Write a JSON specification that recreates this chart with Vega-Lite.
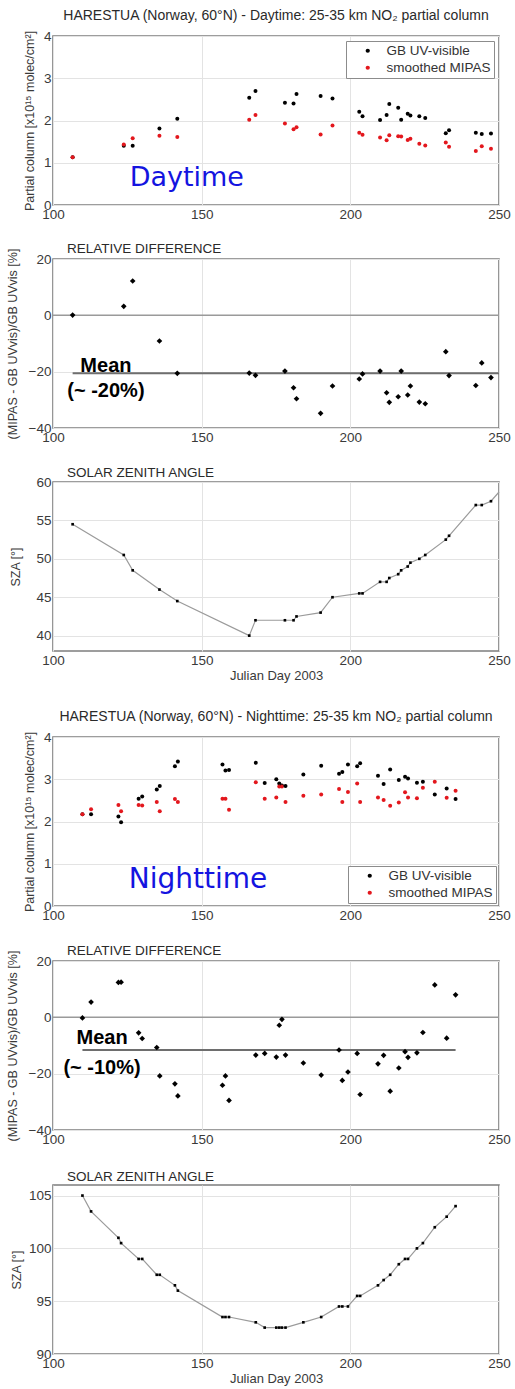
{
  "$schema": "https://vega.github.io/schema/vega-lite/v6.json",
  "padding": {"left": 5, "top": 8, "right": 8, "bottom": 0},
  "datasets": {
    "day": [
      {"day": 106.6, "gb": 1.13, "mipas": 1.13, "rd": 0.1, "sza": 54.5},
      {"day": 123.8, "gb": 1.40, "mipas": 1.43, "rd": 3.2, "sza": 50.5},
      {"day": 126.8, "gb": 1.40, "mipas": 1.58, "rd": 12.2, "sza": 48.5},
      {"day": 135.8, "gb": 1.81, "mipas": 1.64, "rd": -9.1, "sza": 46.0},
      {"day": 141.8, "gb": 2.04, "mipas": 1.61, "rd": -20.6, "sza": 44.5},
      {"day": 166.0, "gb": 2.54, "mipas": 2.02, "rd": -20.5, "sza": 40.0},
      {"day": 168.1, "gb": 2.70, "mipas": 2.13, "rd": -21.3, "sza": 42.0},
      {"day": 178.0, "gb": 2.42, "mipas": 1.93, "rd": -19.8, "sza": 42.0},
      {"day": 180.9, "gb": 2.40, "mipas": 1.79, "rd": -25.7, "sza": 42.0},
      {"day": 181.9, "gb": 2.63, "mipas": 1.84, "rd": -29.6, "sza": 42.5},
      {"day": 190.0, "gb": 2.58, "mipas": 1.67, "rd": -34.8, "sza": 43.0},
      {"day": 194.0, "gb": 2.52, "mipas": 1.88, "rd": -25.1, "sza": 45.0},
      {"day": 203.0, "gb": 2.21, "mipas": 1.71, "rd": -22.6, "sza": 45.5},
      {"day": 204.1, "gb": 2.10, "mipas": 1.66, "rd": -20.8, "sza": 45.5},
      {"day": 210.0, "gb": 2.01, "mipas": 1.60, "rd": -19.8, "sza": 47.0},
      {"day": 212.2, "gb": 2.13, "mipas": 1.53, "rd": -27.5, "sza": 47.0},
      {"day": 213.1, "gb": 2.39, "mipas": 1.65, "rd": -30.9, "sza": 47.5},
      {"day": 216.1, "gb": 2.30, "mipas": 1.63, "rd": -28.9, "sza": 48.0},
      {"day": 217.1, "gb": 2.02, "mipas": 1.62, "rd": -19.8, "sza": 48.5},
      {"day": 219.3, "gb": 2.16, "mipas": 1.54, "rd": -28.3, "sza": 49.0},
      {"day": 220.2, "gb": 2.12, "mipas": 1.57, "rd": -25.1, "sza": 49.5},
      {"day": 223.2, "gb": 2.10, "mipas": 1.45, "rd": -30.8, "sza": 50.0},
      {"day": 225.2, "gb": 2.06, "mipas": 1.41, "rd": -31.4, "sza": 50.5},
      {"day": 232.1, "gb": 1.70, "mipas": 1.48, "rd": -12.9, "sza": 52.5},
      {"day": 233.2, "gb": 1.77, "mipas": 1.38, "rd": -21.4, "sza": 53.0},
      {"day": 242.2, "gb": 1.71, "mipas": 1.28, "rd": -24.9, "sza": 57.0},
      {"day": 244.2, "gb": 1.68, "mipas": 1.39, "rd": -16.9, "sza": 57.0},
      {"day": 247.3, "gb": 1.69, "mipas": 1.33, "rd": -22.1, "sza": 57.5},
      {"day": 250.0, "sza": 58.7, "edge": true}
    ],
    "night": [
      {"day": 109.9, "gb": 2.17, "mipas": 2.17, "rd": -0.2, "sza": 105.0},
      {"day": 112.8, "gb": 2.17, "mipas": 2.29, "rd": 5.4, "sza": 103.5},
      {"day": 122.0, "gb": 2.12, "mipas": 2.39, "rd": 12.4, "sza": 101.0},
      {"day": 122.9, "gb": 1.98, "mipas": 2.24, "rd": 12.5, "sza": 100.5},
      {"day": 128.8, "gb": 2.54, "mipas": 2.39, "rd": -5.5, "sza": 99.0},
      {"day": 130.0, "gb": 2.59, "mipas": 2.38, "rd": -7.5, "sza": 99.0},
      {"day": 134.9, "gb": 2.76, "mipas": 2.46, "rd": -10.7, "sza": 97.5},
      {"day": 135.9, "gb": 2.84, "mipas": 2.24, "rd": -20.8, "sza": 97.5},
      {"day": 141.0, "gb": 3.31, "mipas": 2.53, "rd": -23.6, "sza": 96.5},
      {"day": 142.0, "gb": 3.42, "mipas": 2.46, "rd": -27.9, "sza": 96.0},
      {"day": 157.0, "gb": 3.35, "mipas": 2.54, "rd": -24.1, "sza": 93.5},
      {"day": 158.0, "gb": 3.21, "mipas": 2.54, "rd": -20.8, "sza": 93.5},
      {"day": 159.2, "gb": 3.22, "mipas": 2.28, "rd": -29.5, "sza": 93.5},
      {"day": 168.2, "gb": 3.39, "mipas": 2.93, "rd": -13.4, "sza": 93.0},
      {"day": 171.2, "gb": 2.91, "mipas": 2.54, "rd": -12.8, "sza": 92.5},
      {"day": 175.1, "gb": 3.00, "mipas": 2.57, "rd": -14.1, "sza": 92.5},
      {"day": 176.1, "gb": 2.90, "mipas": 2.83, "rd": -2.8, "sza": 92.5},
      {"day": 177.0, "gb": 2.85, "mipas": 2.83, "rd": -0.7, "sza": 92.5},
      {"day": 178.2, "gb": 2.84, "mipas": 2.46, "rd": -13.4, "sza": 92.5},
      {"day": 184.2, "gb": 3.11, "mipas": 2.61, "rd": -16.2, "sza": 93.0},
      {"day": 190.2, "gb": 3.32, "mipas": 2.64, "rd": -20.5, "sza": 93.5},
      {"day": 196.2, "gb": 3.13, "mipas": 2.77, "rd": -11.6, "sza": 94.5},
      {"day": 197.3, "gb": 3.17, "mipas": 2.46, "rd": -22.4, "sza": 94.5},
      {"day": 199.2, "gb": 3.35, "mipas": 2.70, "rd": -19.4, "sza": 94.5},
      {"day": 202.3, "gb": 3.31, "mipas": 2.90, "rd": -12.8, "sza": 95.5},
      {"day": 203.3, "gb": 3.38, "mipas": 2.46, "rd": -27.4, "sza": 95.5},
      {"day": 209.3, "gb": 3.08, "mipas": 2.57, "rd": -16.5, "sza": 96.5},
      {"day": 211.2, "gb": 2.89, "mipas": 2.51, "rd": -13.5, "sza": 97.0},
      {"day": 213.4, "gb": 3.23, "mipas": 2.37, "rd": -26.2, "sza": 97.5},
      {"day": 216.3, "gb": 2.98, "mipas": 2.45, "rd": -18.0, "sza": 98.5},
      {"day": 218.4, "gb": 3.06, "mipas": 2.69, "rd": -12.2, "sza": 99.0},
      {"day": 219.4, "gb": 3.02, "mipas": 2.57, "rd": -14.2, "sza": 99.0},
      {"day": 222.4, "gb": 2.92, "mipas": 2.55, "rd": -12.6, "sza": 100.0},
      {"day": 224.4, "gb": 2.94, "mipas": 2.80, "rd": -5.4, "sza": 100.5},
      {"day": 228.4, "gb": 2.64, "mipas": 2.94, "rd": 11.5, "sza": 102.0},
      {"day": 232.4, "gb": 2.78, "mipas": 2.56, "rd": -7.4, "sza": 103.0},
      {"day": 235.4, "gb": 2.53, "mipas": 2.73, "rd": 8.0, "sza": 104.0}
    ]
  },
  "config": {
    "font": "Liberation Sans",
    "view": {"stroke": "#7d7d7d", "strokeWidth": 1.6},
    "axis": {
      "domain": false, "ticks": false, "grid": true, "gridColor": "#e3e3e3", "gridWidth": 1,
      "labelFont": "Liberation Sans", "labelFontSize": 13.5, "labelColor": "#3a3a3a", "labelPadding": 2,
      "titleFont": "Liberation Sans", "titleFontSize": 12.5, "titleFontWeight": "normal", "titleColor": "#3a3a3a",
      "labelFlush": false, "labelOverlap": false
    },
    "title": {"font": "Liberation Sans", "fontWeight": "normal", "color": "#2a2a2a", "fontSize": 13.5, "frame": "group"},
    "legend": {
      "labelFont": "Liberation Sans", "labelFontSize": 13.5, "labelColor": "#333333",
      "strokeColor": "#8c8c8c", "fillColor": "#ffffff", "padding": 3, "rowPadding": 2,
      "symbolType": "circle", "symbolSize": 18, "symbolOffset": 12, "labelOffset": 12, "symbolStrokeWidth": 0
    }
  },
  "spacing": 25,
  "resolve": {"scale": {"x": "independent", "y": "independent", "color": "independent"}, "axis": {"x": "independent", "y": "independent"}, "legend": {"color": "independent"}},
  "vconcat": [
    {
      "spacing": 54,
      "bounds": "flush",
      "resolve": {"scale": {"x": "independent", "y": "independent", "color": "independent"}, "axis": {"x": "independent", "y": "independent"}, "legend": {"color": "independent"}},
      "vconcat": [
        {
          "width": 446, "height": 169,
          "title": {"text": "HARESTUA (Norway, 60°N) - Daytime: 25-35 km NO₂ partial column", "anchor": "middle", "fontSize": 14, "offset": 6},
          "layer": [
            {
              "data": {"name": "day"},
              "transform": [{"filter": "!datum.edge"}, {"fold": ["gb", "mipas"], "as": ["series", "value"]}],
              "mark": {"type": "circle", "size": 16, "opacity": 1},
              "encoding": {
                "x": {"field": "day", "type": "quantitative", "scale": {"domain": [100, 250], "nice": false, "zero": false}, "axis": {"values": [100, 150, 200, 250], "title": null}},
                "y": {"field": "value", "type": "quantitative", "scale": {"domain": [0, 4], "nice": false}, "axis": {"values": [0, 1, 2, 3, 4], "title": "Partial column [x10¹⁵ molec/cm²]", "titleX": -24, "titleBaseline": "middle"}},
                "color": {"field": "series", "type": "nominal", "scale": {"domain": ["gb", "mipas"], "range": ["#000000", "#e3171d"]},
                  "legend": {"orient": "top-right", "offset": 5, "title": null, "labelExpr": "datum.label == 'gb' ? 'GB UV-visible' : 'smoothed MIPAS'"}}
              }
            },
            {
              "data": {"values": [{}]},
              "mark": {"type": "text", "text": "Daytime", "font": "DejaVu Sans", "fontSize": 27, "color": "#1414e0", "align": "center", "baseline": "alphabetic"},
              "encoding": {"x": {"datum": 145, "scale": {"domain": [100, 250], "nice": false, "zero": false}}, "y": {"datum": 0.45, "scale": {"domain": [0, 4], "nice": false}}}
            }
          ]
        },
        {
          "width": 446, "height": 169,
          "title": {"text": "RELATIVE DIFFERENCE", "anchor": "start", "dx": 14, "offset": -7},
          "layer": [
            {
              "data": {"values": [{}]},
              "mark": {"type": "rule", "color": "#9a9a9a", "strokeWidth": 1.5},
              "encoding": {"x": {"datum": 100, "scale": {"domain": [100, 250], "nice": false, "zero": false}, "axis": {"values": [100, 150, 200, 250], "title": null}}, "x2": {"datum": 250}, "y": {"datum": 0, "scale": {"domain": [-40, 20], "nice": false, "zero": false}, "axis": {"values": [20, 10, 0, -10, -20, -30, -40], "title": "(MIPAS - GB UVvis)/GB UVvis [%]", "titleX": -41, "titleBaseline": "middle"}}}
            },
            {
              "data": {"values": [{}]},
              "mark": {"type": "rule", "color": "#6e6e6e", "strokeWidth": 2},
              "encoding": {"x": {"datum": 106.6}, "x2": {"datum": 250}, "y": {"datum": -20.6}}
            },
            {
              "data": {"name": "day"},
              "transform": [{"filter": "!datum.edge"}],
              "mark": {"type": "point", "shape": "diamond", "filled": true, "color": "#000000", "size": 32, "opacity": 1},
              "encoding": {
                "x": {"field": "day", "type": "quantitative"},
                "y": {"field": "rd", "type": "quantitative"}
              }
            },
            {
              "data": {"values": [{}]},
              "mark": {"type": "text", "text": ["Mean", "(~ -20%)"], "font": "Liberation Sans", "fontWeight": "bold", "fontSize": 20, "lineHeight": 25, "color": "#000000", "align": "center", "baseline": "alphabetic"},
              "encoding": {"x": {"datum": 117.8}, "y": {"datum": -20.1}}
            }
          ]
        },
        {
          "width": 446, "height": 169,
          "title": {"text": "SOLAR ZENITH ANGLE", "anchor": "start", "dx": 14, "offset": -4},
          "layer": [
            {
              "data": {"name": "day"},
              "mark": {"type": "line", "color": "#9b9b9b", "strokeWidth": 1.2},
              "encoding": {
                "x": {"field": "day", "type": "quantitative", "scale": {"domain": [100, 250], "nice": false, "zero": false}, "axis": {"values": [100, 150, 200, 250], "title": "Julian Day 2003", "titleFontSize": 13, "titlePadding": 3}},
                "y": {"field": "sza", "type": "quantitative", "scale": {"domain": [38, 60], "nice": false, "zero": false}, "axis": {"values": [40, 45, 50, 55, 60], "title": "SZA [°]", "titleX": -38, "titleBaseline": "middle"}}
              }
            },
            {
              "data": {"name": "day"},
              "transform": [{"filter": "!datum.edge"}],
              "mark": {"type": "point", "shape": "square", "filled": true, "color": "#000000", "size": 7, "opacity": 1},
              "encoding": {
                "x": {"field": "day", "type": "quantitative"},
                "y": {"field": "sza", "type": "quantitative"}
              }
            }
          ]
        }
      ]
    },
    {
      "spacing": 55,
      "bounds": "flush",
      "resolve": {"scale": {"x": "independent", "y": "independent", "color": "independent"}, "axis": {"x": "independent", "y": "independent"}, "legend": {"color": "independent"}},
      "vconcat": [
        {
          "width": 446, "height": 169,
          "title": {"text": "HARESTUA (Norway, 60°N) - Nighttime: 25-35 km NO₂ partial column", "anchor": "middle", "fontSize": 14, "offset": 6},
          "layer": [
            {
              "data": {"name": "night"},
              "transform": [{"fold": ["gb", "mipas"], "as": ["series", "value"]}],
              "mark": {"type": "circle", "size": 16, "opacity": 1},
              "encoding": {
                "x": {"field": "day", "type": "quantitative", "scale": {"domain": [100, 250], "nice": false, "zero": false}, "axis": {"values": [100, 150, 200, 250], "title": null}},
                "y": {"field": "value", "type": "quantitative", "scale": {"domain": [0, 4], "nice": false}, "axis": {"values": [0, 1, 2, 3, 4], "title": "Partial column [x10¹⁵ molec/cm²]", "titleX": -24, "titleBaseline": "middle"}},
                "color": {"field": "series", "type": "nominal", "scale": {"domain": ["gb", "mipas"], "range": ["#000000", "#e3171d"]},
                  "legend": {"orient": "bottom-right", "offset": 3, "title": null, "labelExpr": "datum.label == 'gb' ? 'GB UV-visible' : 'smoothed MIPAS'"}}
              }
            },
            {
              "data": {"values": [{}]},
              "mark": {"type": "text", "text": "Nighttime", "font": "DejaVu Sans", "fontSize": 28, "color": "#1414e0", "align": "center", "baseline": "alphabetic"},
              "encoding": {"x": {"datum": 148.8, "scale": {"domain": [100, 250], "nice": false, "zero": false}}, "y": {"datum": 0.43, "scale": {"domain": [0, 4], "nice": false}}}
            }
          ]
        },
        {
          "width": 446, "height": 169,
          "title": {"text": "RELATIVE DIFFERENCE", "anchor": "start", "dx": 14, "offset": -7},
          "layer": [
            {
              "data": {"values": [{}]},
              "mark": {"type": "rule", "color": "#9a9a9a", "strokeWidth": 1.5},
              "encoding": {"x": {"datum": 100, "scale": {"domain": [100, 250], "nice": false, "zero": false}, "axis": {"values": [100, 150, 200, 250], "title": null}}, "x2": {"datum": 250}, "y": {"datum": 0, "scale": {"domain": [-40, 20], "nice": false, "zero": false}, "axis": {"values": [20, 10, 0, -10, -20, -30, -40], "title": "(MIPAS - GB UVvis)/GB UVvis [%]", "titleX": -41, "titleBaseline": "middle"}}}
            },
            {
              "data": {"values": [{}]},
              "mark": {"type": "rule", "color": "#6e6e6e", "strokeWidth": 2},
              "encoding": {"x": {"datum": 109.9}, "x2": {"datum": 235.4}, "y": {"datum": -11.6}}
            },
            {
              "data": {"name": "night"},
              "mark": {"type": "point", "shape": "diamond", "filled": true, "color": "#000000", "size": 32, "opacity": 1},
              "encoding": {
                "x": {"field": "day", "type": "quantitative"},
                "y": {"field": "rd", "type": "quantitative"}
              }
            },
            {
              "data": {"values": [{}]},
              "mark": {"type": "text", "text": ["Mean", "(~ -10%)"], "font": "Liberation Sans", "fontWeight": "bold", "fontSize": 20, "lineHeight": 30, "color": "#000000", "align": "center", "baseline": "alphabetic"},
              "encoding": {"x": {"datum": 116.5}, "y": {"datum": -9.3}}
            }
          ]
        },
        {
          "width": 446, "height": 169,
          "title": {"text": "SOLAR ZENITH ANGLE", "anchor": "start", "dx": 14, "offset": 2},
          "layer": [
            {
              "data": {"name": "night"},
              "mark": {"type": "line", "color": "#9b9b9b", "strokeWidth": 1.2},
              "encoding": {
                "x": {"field": "day", "type": "quantitative", "scale": {"domain": [100, 250], "nice": false, "zero": false}, "axis": {"values": [100, 150, 200, 250], "title": "Julian Day 2003", "titleFontSize": 13, "titlePadding": 3}},
                "y": {"field": "sza", "type": "quantitative", "scale": {"domain": [90, 106], "nice": false, "zero": false}, "axis": {"values": [90, 95, 100, 105], "title": "SZA [°]", "titleX": -37, "titleBaseline": "middle"}}
              }
            },
            {
              "data": {"name": "night"},
              "mark": {"type": "point", "shape": "square", "filled": true, "color": "#000000", "size": 7, "opacity": 1},
              "encoding": {
                "x": {"field": "day", "type": "quantitative"},
                "y": {"field": "sza", "type": "quantitative"}
              }
            }
          ]
        }
      ]
    }
  ]
}
